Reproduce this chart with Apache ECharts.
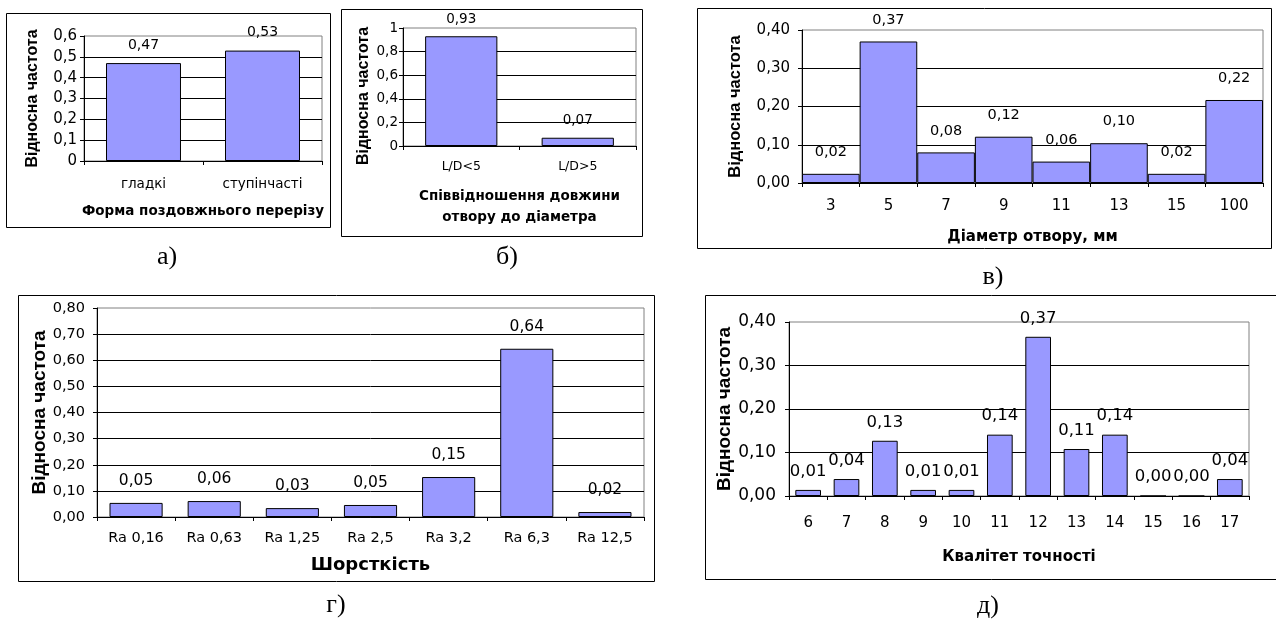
<!DOCTYPE html>
<html>
<head>
<meta charset="utf-8">
<script src="https://cdn.jsdelivr.net/npm/echarts@6/dist/echarts.min.js"></script>
<style>
html,body{margin:0;padding:0;background:#fff;}
#c{width:1276px;height:619px;}
</style>
</head>
<body>
<div id="c"></div>
<script>
// ---- data ----
const catA = ['гладкі', 'ступінчасті'];
const valA = [0.47, 0.53];
const catB = ['L/D<5', 'L/D>5'];
const valB = [0.93, 0.07];
const catC = ['3', '5', '7', '9', '11', '13', '15', '100'];
const valC = [0.024, 0.370, 0.080, 0.121, 0.056, 0.104, 0.024, 0.217];
const catD = ['Ra 0,16', 'Ra 0,63', 'Ra 1,25', 'Ra 2,5', 'Ra 3,2', 'Ra 6,3', 'Ra 12,5'];
const valD = [0.054, 0.061, 0.034, 0.046, 0.153, 0.644, 0.019];
const catE = ['6', '7', '8', '9', '10', '11', '12', '13', '14', '15', '16', '17'];
const valE = [0.014, 0.039, 0.127, 0.014, 0.014, 0.141, 0.366, 0.108, 0.141, 0.00, 0.00, 0.039];

const titleY = 'Відносна частота';
const titleXA = 'Форма поздовжнього перерізу';
const titleXB = 'Співвідношення довжини\nотвору до діаметра';
const titleXC = 'Діаметр отвору, мм';
const titleXD = 'Шорсткість';
const titleXE = 'Квалітет точності';
const letters = ['а)', 'б)', 'в)', 'г)', 'д)'];

const FONT_H = '"DejaVu Sans", "Liberation Sans", sans-serif';
const FONT_V = '"Liberation Sans", Arial, sans-serif';
const BAR = '#9999FF';

const comma1 = v => v === 0 ? '0' : String(+v.toFixed(1)).replace('.', ',');
const comma2 = v => v.toFixed(2).replace('.', ',');

const panels = [
  {cats: catA, vals: valA, max: 0.6, interval: 0.1, yFmt: comma1, xTitle: titleXA,
   grid: {left: 84, top: 36, width: 238, height: 125}, gap: '37%',
   tick: 15, cat: 13.5, val: 14, xt: 13.5, yt: 16, catMargin: 16, yMargin: 7, xGap: 42, yGap: 43, dist: 11, xLH: 17, yPad: 0},
  {cats: catB, vals: valB, max: 1, interval: 0.2, yFmt: comma1, xTitle: titleXB,
   grid: {left: 403, top: 28, width: 233, height: 118}, gap: '38%',
   tick: 13.5, cat: 12.5, val: 13.5, xt: 13.5, yt: 16, catMargin: 14, yMargin: 5, xGap: 40, yGap: 31, dist: 10, xLH: 21, yPad: 18},
  {cats: catC, vals: valC, max: 0.4, interval: 0.1, yFmt: comma2, xTitle: titleXC,
   grid: {left: 802, top: 30, width: 461, height: 153}, gap: '0%',
   tick: 15, cat: 15, val: 14.5, xt: 15, yt: 16.5, catMargin: 16, yMargin: 12, xGap: 45, yGap: 58, dist: 14, xLH: 18, yPad: 0},
  {cats: catD, vals: valD, max: 0.8, interval: 0.1, yFmt: comma2, xTitle: titleXD,
   grid: {left: 97, top: 308, width: 547, height: 209}, gap: '32%',
   tick: 14.5, cat: 14.5, val: 15.5, xt: 18, yt: 19, catMargin: 14, yMargin: 12, xGap: 37, yGap: 48, dist: 14, xLH: 22, yPad: 0},
  {cats: catE, vals: valE, max: 0.4, interval: 0.1, yFmt: comma2, xTitle: titleXE,
   grid: {left: 789, top: 322, width: 460, height: 174}, gap: '33%',
   tick: 17, cat: 15, val: 16.5, xt: 15, yt: 19, catMargin: 20, yMargin: 13, xGap: 52, yGap: 51, dist: 10, xLH: 18, yPad: 0}
];

const grids = [], xAxes = [], yAxes = [], series = [];
panels.forEach((p, i) => {
  grids.push(Object.assign({show: true, borderColor: '#808080', borderWidth: 1, backgroundColor: 'transparent'}, p.grid));
  xAxes.push({
    type: 'category', gridIndex: i, data: p.cats,
    axisLine: {lineStyle: {color: '#000', width: 1}},
    axisTick: {show: true, length: 4, alignWithLabel: false, lineStyle: {color: '#000'}},
    axisLabel: {color: '#000', fontFamily: FONT_H, fontSize: p.cat, margin: p.catMargin, interval: 0},
    name: p.xTitle, nameLocation: 'middle', nameGap: p.xGap,
    nameTextStyle: {color: '#000', fontFamily: FONT_H, fontSize: p.xt, fontWeight: 'bold', lineHeight: p.xLH}
  });
  yAxes.push({
    type: 'value', gridIndex: i, min: 0, max: p.max, interval: p.interval,
    axisLine: {show: true, lineStyle: {color: '#000', width: 1}},
    axisTick: {show: true, length: 4, lineStyle: {color: '#000'}},
    axisLabel: {color: '#000', fontFamily: FONT_H, fontSize: p.tick, margin: p.yMargin, formatter: p.yFmt},
    splitLine: {show: true, showMaxLine: false, lineStyle: {color: '#000', width: 1}},
    name: titleY, nameLocation: 'middle', nameGap: p.yGap,
    nameTextStyle: {color: '#000', fontFamily: FONT_V, fontSize: p.yt, fontWeight: 'bold',
                    padding: [0, p.yPad, 0, 0]}
  });
  series.push({
    type: 'bar', xAxisIndex: i, yAxisIndex: i, data: p.vals,
    barCategoryGap: p.gap,
    itemStyle: {color: BAR, borderColor: '#000', borderWidth: 1},
    label: {show: true, position: 'top', distance: p.dist, color: '#000', fontFamily: FONT_H, fontSize: p.val,
            formatter: o => comma2(o.value)},
    emphasis: {disabled: true}, animation: false
  });
});

const boxes = [
  [6, 13, 324, 214],
  [341, 9, 301, 227],
  [697, 8, 574, 240],
  [18, 295, 636, 286],
  [705, 295, 600, 284]
];
const letterPos = [[167, 257], [507, 257], [993, 277], [336, 605], [988, 606]];

const graphic = [];
boxes.forEach(b => graphic.push({
  type: 'rect', silent: true, z: -1,
  shape: {x: b[0] + 0.5, y: b[1] + 0.5, width: b[2], height: b[3]},
  style: {fill: 'none', stroke: '#000', lineWidth: 1}
}));
letters.forEach((t, i) => graphic.push({
  type: 'text', silent: true, x: letterPos[i][0], y: letterPos[i][1],
  style: {text: t, fill: '#000', font: '26px "Liberation Serif", "Times New Roman", serif', textAlign: 'center', textVerticalAlign: 'middle'}
}));

const chart = echarts.init(document.getElementById('c'), null, {renderer: 'canvas'});
chart.setOption({
  animation: false,
  backgroundColor: '#fff',
  grid: grids, xAxis: xAxes, yAxis: yAxes, series: series,
  graphic: graphic
});
</script>
</body>
</html>
